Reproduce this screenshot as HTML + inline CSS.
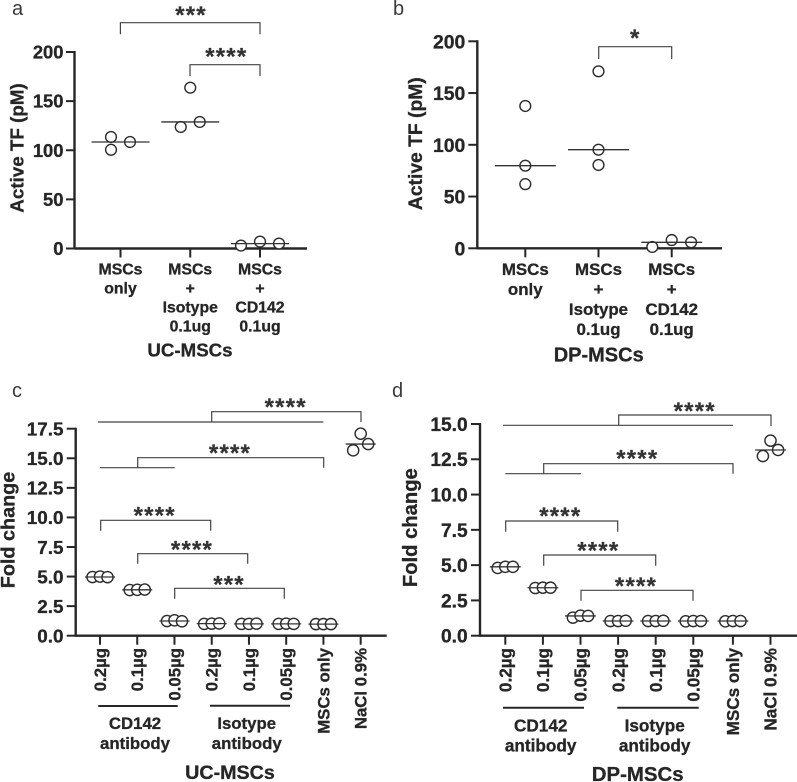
<!DOCTYPE html>
<html lang="en">
<head>
<meta charset="utf-8">
<title>Active TF and fold change in UC-MSCs and DP-MSCs</title>
<style>
html,body{margin:0;padding:0;background:#fff;}
svg{display:block;}
text{font-family:"Liberation Sans",sans-serif;font-weight:bold;fill:#262626;stroke:#262626;stroke-width:0.3px;}
.panel{font-weight:normal;font-size:20px;fill:#3a3a3a;stroke:none;}
.star{font-size:24px;text-anchor:middle;fill:#333;letter-spacing:1.2px;stroke-width:0.2px;}
.br{fill:none;stroke:#444;stroke-width:1.2;}
.mid{text-anchor:middle;}
</style>
</head>
<body>
<svg id="figure" xmlns="http://www.w3.org/2000/svg" width="797" height="782" viewBox="0 0 797 782">
  <rect width="797" height="782" fill="#fff"/>

  <g id="panel-a">
    <text class="panel" x="12" y="15">a</text>
    <text class="mid" transform="translate(23.5,148) rotate(-90)" font-size="18.8">Active TF (pM)</text>
    <text class="mid" x="190" y="356.5" font-size="18.7">UC-MSCs</text>
    <path class="br" d="M120.4 34.3V22.7H260V34.3"/>
    <text class="star" x="191" y="23">***</text>
    <path class="br" d="M190 76V64.7H260V76"/>
    <text class="star" x="226.3" y="64.7">****</text>
  </g>

  <g id="panel-b">
    <text class="panel" x="393" y="15">b</text>
    <text class="mid" transform="translate(422,143.7) rotate(-90)" font-size="19.3">Active TF (pM)</text>
    <text class="mid" x="598.7" y="361.5" font-size="20">DP-MSCs</text>
    <path class="br" d="M598.7 59V46.7H671.7V59"/>
    <text class="star" x="635.3" y="46">*</text>
  </g>

  <g id="panel-c">
    <text class="panel" x="12" y="397">c</text>
    <text class="mid" transform="translate(14.5,530) rotate(-90)" font-size="19.8">Fold change</text>
    <text class="mid" x="230" y="779" font-size="19.7">UC-MSCs</text>
    <path class="br" d="M98 422H323.3M211.7 422V411.7H361V422"/>
    <text class="star" x="285.7" y="415">****</text>
    <path class="br" d="M100 467.7H174.7M137.7 467.7V457.7H323.7V467.7"/>
    <text class="star" x="230" y="461">****</text>
    <path class="br" d="M100.7 530.7V520.3H210.7V530.7"/>
    <text class="star" x="154.7" y="523.7">****</text>
    <path class="br" d="M137.7 563.7V553.7H247.7V563.7"/>
    <text class="star" x="192" y="557.3">****</text>
    <path class="br" d="M174.7 598.7V588.3H284.3V598.7"/>
    <text class="star" x="229" y="592.3">***</text>
    <path d="M98.3 706H177.7" stroke="#262626" stroke-width="2"/>
    <path d="M210 705.7H290" stroke="#262626" stroke-width="2"/>
    <text class="mid" x="135" y="729" font-size="16.8">CD142</text>
    <text class="mid" x="135" y="749" font-size="16.8">antibody</text>
    <text class="mid" x="246.7" y="729" font-size="16.8">Isotype</text>
    <text class="mid" x="246.7" y="749" font-size="16.8">antibody</text>
  </g>

  <g id="panel-d">
    <text class="panel" x="392" y="397">d</text>
    <text class="mid" transform="translate(417,527.7) rotate(-90)" font-size="20.2">Fold change</text>
    <text class="mid" x="637.7" y="781" font-size="20.4">DP-MSCs</text>
    <path class="br" d="M503 425.3H733M618.7 425.3V415H771V426"/>
    <text class="star" x="694.7" y="419">****</text>
    <path class="br" d="M505.3 473.7H581M543.7 473.7V463.7H733V473.7"/>
    <text class="star" x="637.3" y="466.3">****</text>
    <path class="br" d="M505.7 531.7V521H617.7V531.7"/>
    <text class="star" x="560.3" y="524">****</text>
    <path class="br" d="M543.7 565.7V555H655.7V565.7"/>
    <text class="star" x="598.3" y="558.7">****</text>
    <path class="br" d="M581 600.7V590.3H693V600.7"/>
    <text class="star" x="636" y="594">****</text>
    <path d="M503 707.7H584" stroke="#262626" stroke-width="2"/>
    <path d="M617.3 707.7H698.7" stroke="#262626" stroke-width="2"/>
    <text class="mid" x="540.7" y="731.3" font-size="17.2">CD142</text>
    <text class="mid" x="540.7" y="751.7" font-size="17.2">antibody</text>
    <text class="mid" x="654.7" y="731.3" font-size="17.2">Isotype</text>
    <text class="mid" x="654.7" y="751.7" font-size="17.2">antibody</text>
  </g>
</svg>

<script>
/* Panel a */
const categoriesA = [["MSCs","only"],["MSCs","+","Isotype","0.1ug"],["MSCs","+","CD142","0.1ug"]];
const tickValuesA = [0,50,100,150,200];
const tickLabelsA = ["0","50","100","150","200"];
const valuesA = [[113.5,100.5,108.4],[163.7,123.7,128.8],[3,7,5]];
const swarmSlotsA = [[-1,-1,1],[0,-1,1],[-2,0,2]];

/* Panel b */
const categoriesB = [["MSCs","only"],["MSCs","+","Isotype","0.1ug"],["MSCs","+","CD142","0.1ug"]];
const tickValuesB = [0,50,100,150,200];
const tickLabelsB = ["0","50","100","150","200"];
const valuesB = [[137.5,79.8,62],[171,95.3,80.5],[1.3,8,5.8]];
const swarmSlotsB = [[0,0,0],[0,0,0],[-2,0,2]];

/* Panel c */
const categoriesC = ["0.2µg","0.1µg","0.05µg","0.2µg","0.1µg","0.05µg","MSCs only","NaCl 0.9%"];
const tickValuesC = [0,2.5,5,7.5,10,12.5,15,17.5];
const tickLabelsC = ["0.0","2.5","5.0","7.5","10.0","12.5","15.0","17.5"];
const valuesC = [[4.96,5,4.95],[3.86,3.88,3.9],[1.24,1.3,1.22],[1,1.02,1.04],[1,1,1.02],[1,1.02,1],[0.98,0.98,0.98],[15.67,17.08,16.2]];

/* Panel d */
const categoriesD = ["0.2µg","0.1µg","0.05µg","0.2µg","0.1µg","0.05µg","MSCs only","NaCl 0.9%"];
const tickValuesD = [0,2.5,5,7.5,10,12.5,15];
const tickLabelsD = ["0.0","2.5","5.0","7.5","10.0","12.5","15.0"];
const valuesD = [[4.8,4.88,4.88],[3.38,3.4,3.4],[1.28,1.42,1.4],[1.04,1.04,1.06],[1.04,1.04,1.06],[1.02,1.04,1.04],[1.02,1.04,1.04],[12.73,13.82,13.16]];

const SVG_NS = "http://www.w3.org/2000/svg";
const INK = "#262626";

function add(parent, tag, attrs, name, text) {
  const el = document.createElementNS(SVG_NS, tag);
  for (const k in attrs) el.setAttribute(k, attrs[k]);
  
  
  if (text !== undefined) el.textContent = text;
  parent.appendChild(el);
  return el;
}

function median(list) {
  const s = list.slice().sort((a, b) => a - b);
  return s[Math.floor(s.length / 2)];
}

function makeYScale(domainMax, y0, yMax) {
  return v => y0 - (v / domainMax) * (y0 - yMax);
}

function makeXScale(x0, step, gapAfter, gap) {
  return i => x0 + step * i + (i >= gapAfter ? gap : 0);
}

function drawAxes(g, id, o) {
  const top = o.y(o.tickValues[o.tickValues.length - 1]);
  const zero = o.y(0);
  add(g, "line", {x1:o.axisX, x2:o.axisX, y1:top - 1, y2:zero + 1, stroke:INK, "stroke-width":2.4}, "y-axis-" + id);
  add(g, "line", {x1:o.axisX, x2:o.axisEnd, y1:zero, y2:zero, stroke:INK, "stroke-width":2.4}, "x-axis-" + id);
  o.tickValues.forEach((v, i) => {
    add(g, "line", {x1:o.axisX - o.tickLen, x2:o.axisX, y1:o.y(v), y2:o.y(v), stroke:INK, "stroke-width":2}, "y-tick-" + id + "-" + i);
    add(g, "text", {x:o.tickRight, y:o.y(v) + o.tickFont * 0.36, "text-anchor":"end", "font-size":o.tickFont}, "y-tick-label-" + id + "-" + i, o.tickLabels[i]);
  });
}

function drawSeries(g, id, o) {
  o.values.forEach((group, i) => {
    const cx = o.x(i);
    add(g, "line", {x1:cx, x2:cx, y1:o.y(0), y2:o.y(0) + 9, stroke:INK, "stroke-width":2}, "x-tick-" + id + "-" + i);
    group.forEach((v, j) => {
      const slot = o.slots ? o.slots[i][j] : j - 1;
      add(g, "circle", {cx:cx + slot * o.slotUnit, cy:o.y(v), r:o.r, fill:"#fff", stroke:"#2b2b2b", "stroke-width":1.4}, "point-" + id + "-" + i + "-" + j);
    });
    const m = o.y(median(group));
    add(g, "line", {x1:cx - o.medianHalf, x2:cx + o.medianHalf, y1:m, y2:m, stroke:"#333", "stroke-width":1.3}, "median-line-" + id + "-" + i);
  });
}

function drawStackedLabels(g, id, cats, o) {
  cats.forEach((lines, i) => {
    lines.forEach((line, k) => {
      add(g, "text", {x:o.x(i), y:o.base + k * o.leading, "text-anchor":"middle", "font-size":o.font}, "category-label-" + id + "-" + i + "-" + k, line);
    });
  });
}

function drawRotatedLabels(g, id, cats, o) {
  cats.forEach((label, i) => {
    add(g, "text", {transform:"translate(" + (o.x(i) + o.shift) + "," + o.top + ") rotate(-90)", "text-anchor":"end", "font-size":o.font}, "category-label-" + id + "-" + i, label);
  });
}

/* Panel a render */
const gA = document.getElementById("panel-a");
const yA = makeYScale(200, 248.5, 52);
const xA = makeXScale(120.5, 69.75, 99, 0);
drawAxes(gA, "a", {y:yA, tickValues:tickValuesA, tickLabels:tickLabelsA, axisX:74.5, axisEnd:307, tickLen:8.5, tickRight:63.5, tickFont:18.4});
drawSeries(gA, "a", {values:valuesA, slots:swarmSlotsA, slotUnit:9.5, x:xA, y:yA, r:5.4, medianHalf:29});
drawStackedLabels(gA, "a", categoriesA, {x:xA, base:274.3, leading:19, font:15.8});

/* Panel b render */
const gB = document.getElementById("panel-b");
const yB = makeYScale(200, 248.3, 41.3);
const xB = makeXScale(525.3, 73.2, 99, 0);
drawAxes(gB, "b", {y:yB, tickValues:tickValuesB, tickLabels:tickLabelsB, axisX:477.3, axisEnd:722, tickLen:9, tickRight:465.3, tickFont:19.4});
drawSeries(gB, "b", {values:valuesB, slots:swarmSlotsB, slotUnit:9.7, x:xB, y:yB, r:5.4, medianHalf:30.5});
drawStackedLabels(gB, "b", categoriesB, {x:xB, base:275, leading:20, font:16.9});

/* Panel c render */
const gC = document.getElementById("panel-c");
const yC = makeYScale(17.5, 635.7, 428.7);
const xC = makeXScale(100, 37.24, 99, 0);
drawAxes(gC, "c", {y:yC, tickValues:tickValuesC, tickLabels:tickLabelsC, axisX:75.7, axisEnd:386.7, tickLen:9, tickRight:63.5, tickFont:18.9});
drawSeries(gC, "c", {values:valuesC, slotUnit:7.5, x:xC, y:yC, r:5.6, medianHalf:15});
drawRotatedLabels(gC, "c", categoriesC, {x:xC, shift:6, top:648, font:16.8});

/* Panel d render */
const gD = document.getElementById("panel-d");
const yD = makeYScale(15, 635.7, 424);
const xD = makeXScale(505.3, 37.6, 6, 2);
drawAxes(gD, "d", {y:yD, tickValues:tickValuesD, tickLabels:tickLabelsD, axisX:480, axisEnd:797, tickLen:9, tickRight:467.7, tickFont:19.2});
drawSeries(gD, "d", {values:valuesD, slotUnit:7.6, x:xD, y:yD, r:5.6, medianHalf:15.4});
drawRotatedLabels(gD, "d", categoriesD, {x:xD, shift:6.2, top:648, font:17.1});
</script>
</body>
</html>
